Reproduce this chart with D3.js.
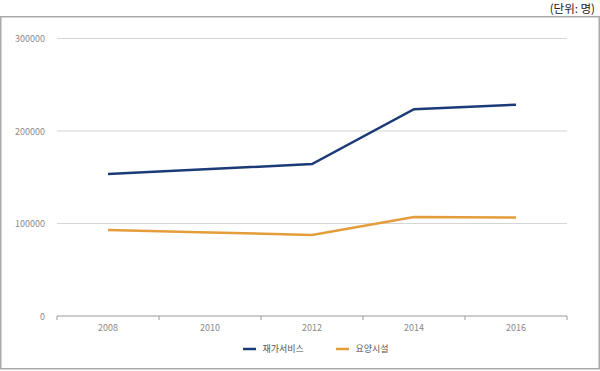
<!DOCTYPE html>
<html>
<head>
<meta charset="utf-8">
<script src="https://cdn.jsdelivr.net/npm/d3@7"></script>
<style>
  body { margin: 0; background: #fff; }
  svg { display: block; font-family: "Noto Sans CJK KR", "Noto Sans", sans-serif; }
</style>
</head>
<body>
<div id="chart"></div>
<script>
// 연도별 재가서비스 / 요양시설 이용자 수
const years = ['2008', '2010', '2012', '2014', '2016'];
const homeCare = [153500, 158800, 164300, 223500, 228400];
const facility = [93000, 90300, 87600, 107000, 106400];
const yTicks = [0, 100000, 200000, 300000];
const seriesNames = ['재가서비스', '요양시설'];
const seriesColors = ['#1c3a78', '#e59d3b'];

(function() {
  'use strict';

  const width = 600;
  const height = 371;
  const plot = { left: 57, right: 567, top: 38.5, bottom: 316 };

  const svg = d3.select('#chart')
    .append('svg')
    .attr('width', width)
    .attr('height', height);

  // 바깥 테두리
  svg.append('rect')
    .attr('x', 0.75)
    .attr('y', 16.75)
    .attr('width', width - 1.5)
    .attr('height', 352)
    .attr('fill', 'none')
    .attr('stroke', '#a9a9a9')
    .attr('stroke-width', 1.5);

  svg.append('text')
    .attr('x', 595)
    .attr('y', 12.5)
    .attr('text-anchor', 'end')
    .attr('font-size', 11.5)
    .attr('fill', '#222')
    .text('(단위: 명)');

  const x = d3.scaleBand()
    .domain(years)
    .range([plot.left, plot.right]);

  const y = d3.scaleLinear()
    .domain([0, 300000])
    .range([plot.bottom, plot.top]);

  // 가로 눈금선
  svg.append('g')
    .selectAll('line')
    .data(yTicks.filter(d => d > 0))
    .enter()
    .append('line')
    .attr('x1', plot.left)
    .attr('x2', plot.right)
    .attr('y1', d => y(d))
    .attr('y2', d => y(d))
    .attr('stroke', '#d6d6d6')
    .attr('stroke-width', 1.2);

  svg.append('g')
    .selectAll('text')
    .data(yTicks)
    .enter()
    .append('text')
    .attr('x', 45)
    .attr('y', d => y(d) + 3.5)
    .attr('text-anchor', 'end')
    .attr('font-size', 9)
    .attr('fill', '#8a8a8a')
    .text(d => d);

  // x축
  const xAxis = svg.append('g');
  xAxis.append('line')
    .attr('x1', plot.left)
    .attr('x2', plot.right)
    .attr('y1', plot.bottom)
    .attr('y2', plot.bottom)
    .attr('stroke', '#9a9a9a')
    .attr('stroke-width', 1);

  const edges = years.map(d => x(d)).concat([x(years[years.length - 1]) + x.bandwidth()]);
  xAxis.selectAll('.tick')
    .data(edges)
    .enter()
    .append('line')
    .attr('x1', d => d)
    .attr('x2', d => d)
    .attr('y1', plot.bottom)
    .attr('y2', plot.bottom + 4)
    .attr('stroke', '#9a9a9a');

  xAxis.selectAll('text')
    .data(years)
    .enter()
    .append('text')
    .attr('x', d => x(d) + x.bandwidth() / 2)
    .attr('y', plot.bottom + 14.5)
    .attr('text-anchor', 'middle')
    .attr('font-size', 9)
    .attr('fill', '#8a8a8a')
    .text(d => d);

  const line = d3.line()
    .x((d, i) => x(years[i]) + x.bandwidth() / 2)
    .y(d => y(d));

  [homeCare, facility].forEach((values, i) => {
    svg.append('path')
      .datum(values)
      .attr('d', line)
      .attr('fill', 'none')
      .attr('stroke', seriesColors[i])
      .attr('stroke-width', 2.5);
  });

  // 범례
  const legendX = [243, 336];
  const legend = svg.append('g');
  seriesNames.forEach((name, i) => {
    legend.append('line')
      .attr('x1', legendX[i])
      .attr('x2', legendX[i] + 13)
      .attr('y1', 349)
      .attr('y2', 349)
      .attr('stroke', seriesColors[i])
      .attr('stroke-width', 2.5);
    legend.append('text')
      .attr('x', legendX[i] + 19.5)
      .attr('y', 352)
      .attr('font-size', 9)
      .attr('fill', '#555')
      .text(name);
  });
})();
</script>
</body>
</html>
